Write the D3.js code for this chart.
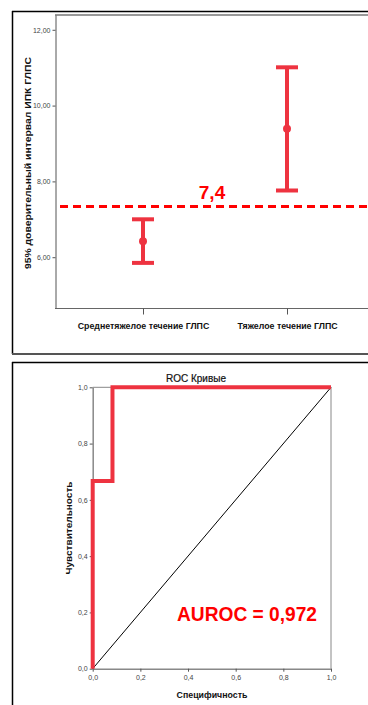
<!DOCTYPE html>
<html><head><meta charset="utf-8">
<script src="https://cdn.jsdelivr.net/npm/d3@7"></script>
<style>body{margin:0;background:#fff}svg{display:block}</style>
</head><body>
<svg id="c" width="368" height="705"></svg>
<script>
// ---- data: error bar chart ----
const categories = ["Среднетяжелое течение ГЛПС", "Тяжелое течение ГЛПС"];
const means = [6.42, 9.39];
const lowerCI = [5.85, 7.76];
const upperCI = [7.00, 11.01];
const yTicks1 = [6, 8, 10, 12];
const cutoff = 7.34;
const cutoffLabel = "7,4";
// ---- data: ROC ----
const rocSpec = [0, 0, 0.083, 0.083, 1];   // x axis (1 - specificity)
const rocSens = [0, 0.667, 0.667, 1, 1];
const rocTicks = [0, 0.2, 0.4, 0.6, 0.8, 1.0];
const aurocLabel = "AUROC = 0,972";

const svg = d3.select("#c");
const F = "'Liberation Sans', Arial, sans-serif";
const red = "#ee3340";
const fmt2 = d => d3.format(".2f")(d).replace(".", ",");
const fmt1 = d => d3.format(".1f")(d).replace(".", ",");

// ===== Top panel frame =====
svg.append("line").attr("x1",12).attr("x2",368).attr("y1",11.5).attr("y2",11.5).attr("stroke","#000").attr("stroke-width",1.5);
svg.append("line").attr("x1",12.5).attr("x2",12.5).attr("y1",11).attr("y2",354).attr("stroke","#000").attr("stroke-width",1.5);
svg.append("line").attr("x1",12).attr("x2",368).attr("y1",354).attr("y2",354).attr("stroke","#555").attr("stroke-width",2);

const y1 = d3.scaleLinear().domain([4.66, 12.39]).range([308, 15]);
const x1 = d3.scalePoint().domain(categories).range([143, 287]);

// plot box
svg.append("line").attr("x1",55).attr("x2",368).attr("y1",15).attr("y2",15).attr("stroke","#999").attr("stroke-width",2);
svg.append("line").attr("x1",55).attr("x2",368).attr("y1",308.5).attr("y2",308.5).attr("stroke","#666").attr("stroke-width",1);

const gy1 = svg.append("g").attr("transform","translate(55.5,0)")
  .call(d3.axisLeft(y1).tickValues(yTicks1).tickFormat(fmt2).tickSize(3).tickSizeOuter(0));
gy1.select(".domain").attr("stroke","#555");
gy1.selectAll(".tick line").attr("stroke","#555");
gy1.selectAll("text").attr("font-family",F).attr("font-size",7).attr("fill","#444").attr("dx",1);

const gx1 = svg.append("g").attr("transform","translate(0,308.5)")
  .call(d3.axisBottom(x1).tickSize(6).tickSizeOuter(0));
gx1.select(".domain").remove();
gx1.selectAll(".tick line").attr("stroke","#555");
gx1.selectAll("text").attr("font-family",F).attr("font-size",8.8).attr("font-weight","bold").attr("fill","#111").attr("dy","1.25em");

svg.append("text").attr("transform","translate(31,163) rotate(-90)").attr("text-anchor","middle")
  .attr("font-family",F).attr("font-size",9.5).attr("font-weight","bold").attr("fill","#111")
  .attr("textLength",212).attr("lengthAdjust","spacingAndGlyphs")
  .text("95% доверительный интервал ИПК ГЛПС");

// error bars
const eb = svg.append("g").selectAll("g").data(categories).join("g");
eb.append("line").attr("x1",d=>x1(d)).attr("x2",d=>x1(d))
  .attr("y1",(d,i)=>y1(upperCI[i])).attr("y2",(d,i)=>y1(lowerCI[i]))
  .attr("stroke",red).attr("stroke-width",4);
eb.append("line").attr("x1",d=>x1(d)-11).attr("x2",d=>x1(d)+11)
  .attr("y1",(d,i)=>y1(upperCI[i])).attr("y2",(d,i)=>y1(upperCI[i]))
  .attr("stroke",red).attr("stroke-width",4);
eb.append("line").attr("x1",d=>x1(d)-11).attr("x2",d=>x1(d)+11)
  .attr("y1",(d,i)=>y1(lowerCI[i])).attr("y2",(d,i)=>y1(lowerCI[i]))
  .attr("stroke",red).attr("stroke-width",4);
eb.append("circle").attr("cx",d=>x1(d)).attr("cy",(d,i)=>y1(means[i])).attr("r",4).attr("fill",red);

// cutoff line
svg.append("line").attr("x1",60).attr("x2",368).attr("y1",y1(cutoff)).attr("y2",y1(cutoff))
  .attr("stroke","#ff0000").attr("stroke-width",3).attr("stroke-dasharray","8,5");
svg.append("text").attr("x",212).attr("y",y1(cutoff)-7).attr("text-anchor","middle")
  .attr("font-family",F).attr("font-weight","bold").attr("font-size",19).attr("fill","#ff0000")
  .text(cutoffLabel);

// ===== Bottom panel frame =====
svg.append("line").attr("x1",12).attr("x2",368).attr("y1",362.5).attr("y2",362.5).attr("stroke","#000").attr("stroke-width",1.5);
svg.append("line").attr("x1",12.5).attr("x2",12.5).attr("y1",362).attr("y2",705).attr("stroke","#000").attr("stroke-width",1.5);

const x2 = d3.scaleLinear().domain([0,1]).range([92.7,331]);
const y2 = d3.scaleLinear().domain([0,1]).range([668.7,387.3]);

svg.append("text").attr("x",196).attr("y",382).attr("text-anchor","middle")
  .attr("font-family",F).attr("font-size",10).attr("fill","#111").attr("stroke","#111").attr("stroke-width",0.2)
  .text("ROC Кривые");

// frame lines top/right
svg.append("line").attr("x1",x2(0)).attr("x2",x2(1)).attr("y1",y2(1)).attr("y2",y2(1)).attr("stroke","#888").attr("stroke-width",1);
svg.append("line").attr("x1",x2(1)).attr("x2",x2(1)).attr("y1",y2(1)).attr("y2",y2(0)).attr("stroke","#888").attr("stroke-width",1);

const gx2 = svg.append("g").attr("transform",`translate(0,${y2(0)})`)
  .call(d3.axisBottom(x2).tickValues(rocTicks).tickFormat(fmt1).tickSize(3).tickSizeOuter(0));
gx2.select(".domain").attr("stroke","#888").attr("stroke-width",1.5);
gx2.selectAll(".tick line").attr("stroke","#555");
gx2.selectAll("text").attr("font-family",F).attr("font-size",7).attr("fill","#444");

const gy2 = svg.append("g").attr("transform",`translate(${x2(0)},0)`)
  .call(d3.axisLeft(y2).tickValues(rocTicks).tickFormat(fmt1).tickSize(3).tickSizeOuter(0));
gy2.select(".domain").attr("stroke","#888").attr("stroke-width",1.5);
gy2.selectAll(".tick line").attr("stroke","#555");
gy2.selectAll("text").attr("font-family",F).attr("font-size",7).attr("fill","#444").attr("dx",1);

svg.append("text").attr("x",212).attr("y",698).attr("text-anchor","middle")
  .attr("font-family",F).attr("font-size",8.8).attr("font-weight","bold").attr("fill","#111").text("Специфичность");
svg.append("text").attr("transform","translate(72,528) rotate(-90)").attr("text-anchor","middle")
  .attr("font-family",F).attr("font-size",9.5).attr("font-weight","bold").attr("fill","#111")
  .attr("textLength",93).attr("lengthAdjust","spacingAndGlyphs").text("Чувствительность");

// diagonal
svg.append("path").attr("d", d3.line()([[x2(0),y2(0)],[x2(1),y2(1)]]))
  .attr("stroke","#000").attr("stroke-width",1).attr("fill","none");

// ROC curve
const rocPts = rocSpec.map((v,i)=>[x2(v), y2(rocSens[i])]);
svg.append("path").attr("d", d3.line()(rocPts))
  .attr("stroke",red).attr("stroke-width",4).attr("fill","none").attr("stroke-linejoin","miter");

svg.append("text").attr("x",247).attr("y",621).attr("text-anchor","middle")
  .attr("font-family",F).attr("font-weight","bold").attr("font-size",20).attr("fill","#ff0000")
  .attr("textLength",140).attr("lengthAdjust","spacingAndGlyphs").text(aurocLabel);
</script>
</body></html>
